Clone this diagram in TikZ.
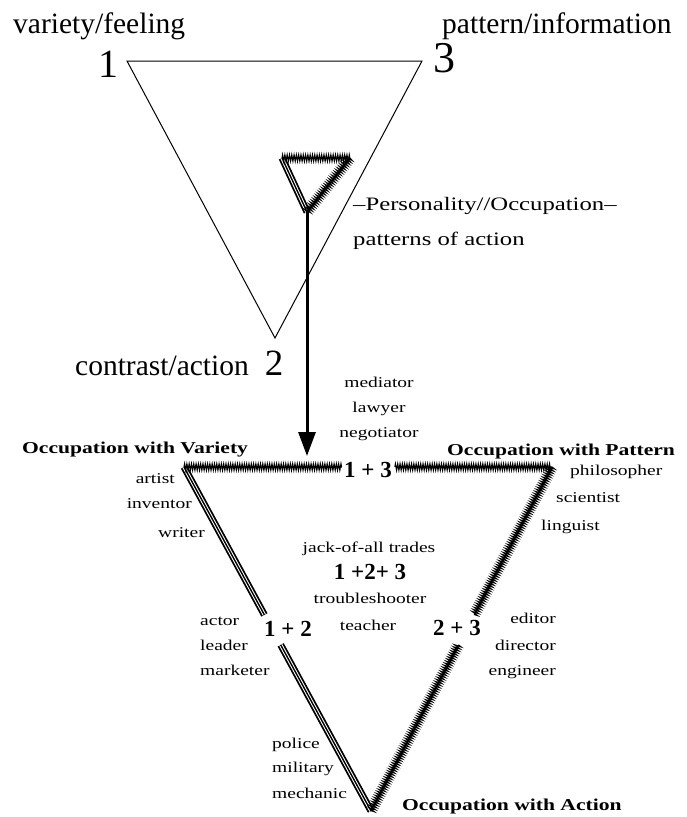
\documentclass[tikz,border=0pt]{standalone}
\usepackage{fontspec}
\setmainfont{Liberation Serif}
\newfontfamily\widefont{Liberation Serif}[FakeStretch=1.3]
\usetikzlibrary{arrows.meta,decorations.pathmorphing,calc}
\newcommand\fsz[1]{\fontsize{#1}{#1}\selectfont}
\begin{document}
\begin{tikzpicture}[x=1pt,y=-1pt,
  lbl/.style={inner sep=0pt, font=\widefont\fsz{15}},
  perslbl/.style={inner sep=0pt, font=\widefont\fsz{19}},
  occ/.style={inner sep=0pt, font=\widefont\bfseries\fsz{16.6}},
  big/.style={inner sep=0pt, font=\fsz{29.5}},
  sumlbl/.style={inner sep=0pt, font=\bfseries\fsz{23}},
  thinedge/.style={line width=1pt, line join=miter},
  zig/.style={line width=1.1pt, decorate, decoration={zigzag, segment length=2.3pt, amplitude=3.2pt}},
  dbl/.style={line width=3.4pt, draw=white, preaction={draw=black, line width=7pt}, postaction={draw=black, line width=1.4pt}},
  arr/.style={line width=3pt, -{Triangle[length=24pt,width=17pt]}}
]
\useasboundingbox (0,0) rectangle (687,817);

% upper triangle
\coordinate (A1) at (127,61);
\coordinate (A3) at (422,61);
\coordinate (A2) at (275,338);
\draw[thinedge] (A1) -- (A3) -- (A2) -- cycle;

\node[big, anchor=base west] (vf) at (13,33) {variety/feeling};
\node[big, anchor=base west] (pi) at (442,33) {pattern/information};
\node[inner sep=0pt, font=\fsz{40}, anchor=base] (n1) at (108,77) {1};
\node[inner sep=0pt, font=\fsz{44}, anchor=base] (n3) at (444,72) {3};
\node[big, anchor=base west] (ca) at (75,375) {contrast/action};
\node[inner sep=0pt, font=\fsz{37}, anchor=base] (n2) at (274,375) {2};

% small hatched triangle
\coordinate (S1) at (282,158);
\coordinate (S3) at (350,158);
\coordinate (S2) at (307,212);
\draw[dbl] (S1) -- (S2);
\draw[zig] (S1) -- (S3);
\draw[zig] (S3) -- (S2);

\node[perslbl, anchor=base west] (pers) at (353,210) {–Personality//Occupation–};
\node[perslbl, anchor=base west] (poa) at (353,245) {patterns of action};

% arrow
\coordinate (tip) at (307,456);
\draw[arr] (S2) -- (tip);

\node[lbl, anchor=base] (med) at (379,387) {mediator};
\node[lbl, anchor=base] (law) at (379,412) {lawyer};
\node[lbl, anchor=base] (neg) at (379,437) {negotiator};

% lower triangle
\coordinate (B1) at (184,467);
\coordinate (B3) at (552,467);
\coordinate (B2) at (371,811);

\node[sumlbl] (s13) at (368,470) {1 + 3};
\node[sumlbl] (s12) at (288,629) {1 + 2};
\node[sumlbl] (s23) at (457,628) {2 + 3};

\draw[dbl] (B1) -- ($(B1)!0.43!(B2)$);
\draw[dbl] ($(B1)!0.517!(B2)$) -- (B2);
\draw[zig] (B1) -- ($(B1)!0.429!(B3)$);
\draw[zig] ($(B1)!0.573!(B3)$) -- (B3);
\draw[zig] (B3) -- ($(B3)!0.43!(B2)$);
\draw[zig] ($(B3)!0.517!(B2)$) -- (B2);

\node[occ, anchor=base west] (ov) at (22,453) {Occupation with Variety};
\node[occ, anchor=base west] (op) at (447,455) {Occupation with Pattern};
\node[occ, anchor=base west] (oa) at (402,810) {Occupation with Action};

\node[lbl, anchor=base east] (art) at (175,483) {artist};
\node[lbl, anchor=base east] (inv) at (192,508) {inventor};
\node[lbl, anchor=base east] (wri) at (205,537) {writer};

\node[lbl, anchor=base west] (phi) at (570,475) {philosopher};
\node[lbl, anchor=base west] (sci) at (556,502) {scientist};
\node[lbl, anchor=base west] (lin) at (541,530) {linguist};

\node[lbl, anchor=base] (jack) at (369,552) {jack-of-all trades};
\node[sumlbl, anchor=center] (s123) at (370,572) {1 +2+ 3};
\node[lbl, anchor=base] (trb) at (370,603) {troubleshooter};
\node[lbl, anchor=base] (tea) at (368,630) {teacher};

\node[lbl, anchor=base west] (act) at (200,625) {actor};
\node[lbl, anchor=base west] (lea) at (200,650) {leader};
\node[lbl, anchor=base west] (mar) at (200,675) {marketer};

\node[lbl, anchor=base east] (edi) at (556,623) {editor};
\node[lbl, anchor=base east] (dir) at (556,650) {director};
\node[lbl, anchor=base east] (eng) at (556,675) {engineer};

\node[lbl, anchor=base west] (pol) at (272,748) {police};
\node[lbl, anchor=base west] (mil) at (272,772) {military};
\node[lbl, anchor=base west] (mec) at (272,798) {mechanic};
\end{tikzpicture}
\end{document}
